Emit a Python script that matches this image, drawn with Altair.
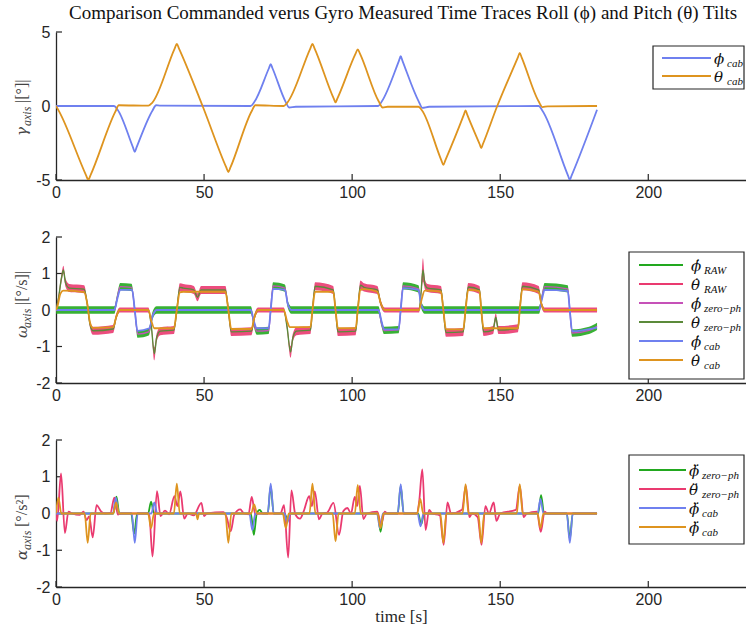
import altair as alt
import pandas as pd

# ---------------- colours / fonts ----------------
GREEN = "#22a81f"
PINK = "#ea3a70"
MAGENTA = "#c651b8"
DKGREEN = "#5b8a3a"
BLUE = "#6f80ef"
ORANGE = "#de941f"
AX = "#262626"
SANS = "Liberation Sans"
SERIF = "Liberation Serif"
MATH = "DejaVu Serif"

# ---------------- data: top panel (gamma) ----------------
top_phi_t = [0, 19.6, 20.8, 26.0, 26.6, 27.2, 32.6, 33.8, 35, 65.7, 66.9, 71.9, 72.5, 73.1, 77.5, 78.7, 81,
             108.8, 110.0, 115.8, 116.4, 117.0, 122.5, 123.7, 126, 163.0, 164.2, 172.9, 173.5, 174.1, 182.7]
top_phi_v = [0, 0, -0.25, -2.8, -3.1, -2.8, -0.3, 0.05, 0.03, 0, 0.25, 2.55, 2.82, 2.55, 0.3, -0.1, -0.05,
             0, 0.3, 3.05, 3.36, 3.05, 0.3, -0.12, -0.05, 0, -0.3, -4.7, -4.98, -4.7, -0.25]
top_theta_t = [0, 1.0, 10.2, 10.9, 11.6, 20.0, 21.2, 31.2, 32.4, 40.1, 40.8, 41.5, 49.5, 57.5, 58.2, 58.9,
               66.2, 67.3, 76.9, 78.0, 85.9, 86.6, 87.3, 93.8, 94.4, 95.0, 101.2, 101.9, 102.6, 109.0, 110.3,
               112.0, 122.4, 123.6, 130.1, 130.8, 131.5, 137.8, 138.3, 138.8, 143.1, 143.6, 144.1, 149.0,
               155.9, 156.6, 157.3, 163.0, 164.3, 166.0, 182.7]
top_theta_v = [0, -0.35, -4.7, -5.0, -4.7, -0.4, 0.05, 0.02, 0.2, 3.9, 4.2, 3.9, 0, -4.15, -4.46, -4.15,
               -0.3, 0.05, 0.0, 0.2, 3.9, 4.2, 3.9, 0.5, 0.25, 0.5, 3.55, 3.83, 3.55, 0.3, -0.1,
               -0.05, -0.05, -0.3, -3.65, -3.97, -3.65, -0.55, -0.29, -0.55, -2.6, -2.84, -2.6, 0,
               3.25, 3.58, 3.25, 0.3, -0.08, -0.02, 0]

# ---------------- data: middle panel (omega) ----------------
mid_theta_cab_t = [0, 0.5, 1.5, 2.5, 9.5, 10.5, 11.5, 12.5, 19.3, 20.3, 21.5, 31.2, 32.2, 33.2, 39.8, 40.8,
                   41.8, 43.0, 57.2, 58.2, 59.2, 66.0, 67.0, 68.2, 76.9, 78.0, 79.0, 85.9, 86.6, 87.5, 93.6,
                   94.4, 95.2, 101.2, 101.9, 102.8, 104.0, 108.5, 109.6, 111.0, 122.6, 123.5, 124.5, 130.0,
                   130.8, 131.7, 137.5, 138.3, 139.2, 143.0, 143.6, 144.4, 156.0, 156.6, 157.5, 163.0, 163.8,
                   165.0, 182.7]
mid_theta_cab_v = [0, 0.1, 0.45, 0.53, 0.49, 0.2, -0.35, -0.49, -0.47, -0.2, 0, 0, -0.3, -0.5, -0.5, 0,
                   0.48, 0.5, 0.5, 0, -0.52, -0.52, -0.2, 0, 0, -0.3, -0.47, -0.47, 0, 0.5, 0.5,
                   0, -0.5, -0.5, 0, 0.55, 0.57, 0.5, 0.2, 0, 0, 0.3, 0.53, 0.5,
                   0, -0.53, -0.53, 0, 0.55, 0.52, 0, -0.5, -0.5, 0, 0.57, 0.5, 0.2,
                   0, 0]
mid_phi_cab_t = [0, 19.7, 20.7, 21.7, 25.7, 26.6, 27.5, 31.5, 32.7, 34.0, 65.8, 66.8, 67.8, 71.8, 72.5, 73.3,
                 77.3, 78.3, 79.5, 108.9, 109.9, 110.8, 115.7, 116.4, 117.2, 122.4, 123.3, 124.5, 163.1,
                 164.1, 165.0, 172.8, 173.5, 174.3, 182.7]
mid_phi_cab_v = [0, 0, 0.3, 0.55, 0.55, 0, -0.57, -0.5, -0.15, 0, 0, -0.3, -0.5, -0.5, 0, 0.58,
                 0.55, 0.15, 0, 0, -0.3, -0.53, -0.53, 0, 0.6, 0.55, 0.15, 0, 0,
                 0.3, 0.55, 0.52, 0, -0.58, -0.48]
# zero-phase filtered phi rate (also the centre of the raw phi rate trace)
mid_phi_zp_t = [0, 19.7, 20.7, 21.7, 25.5, 26.6, 27.6, 31.3, 32.6, 34.0, 65.8, 66.8, 67.8, 71.8, 72.5, 73.3,
                77.3, 78.3, 79.5, 108.9, 109.9, 110.8, 115.7, 116.4, 117.2, 122.4, 123.3, 124.5, 163.1,
                164.1, 165.0, 172.8, 173.5, 174.3, 180.0, 182.7]
mid_phi_zp_v = [0, 0, 0.35, 0.64, 0.62, 0, -0.66, -0.6, -0.15, 0, 0, -0.35, -0.58, -0.56, 0, 0.66,
                0.6, 0.15, 0, 0, -0.35, -0.56, -0.54, 0, 0.66, 0.58, 0.15, 0, 0,
                0.35, 0.64, 0.58, 0, -0.63, -0.56, -0.45]
mid_phi_raw_spread = 0.1
# zero-phase filtered theta rate (also the centre of the raw theta rate trace)
mid_theta_zp_t = [0, 0.8, 1.8, 2.5, 3.2, 4.5, 9.5, 10.5, 11.5, 12.5, 19.3, 20.3, 21.5, 31.2, 32.2, 33.2, 34.0,
                  35.2, 39.8, 40.8, 41.8, 43.0, 46.5, 47.8, 49.0, 57.2, 58.2, 59.2, 66.0, 67.0, 68.2, 76.9,
                  78.0, 79.2, 80.0, 81.2, 85.9, 86.6, 87.5, 93.6, 94.4, 95.2, 101.2, 101.9, 102.8, 104.0,
                  108.5, 109.6, 111.0, 122.6, 123.3, 123.9, 124.6, 125.5, 130.0, 130.8, 131.7, 137.5, 138.3,
                  139.2, 143.0, 143.6, 144.4, 147.6, 148.5, 149.4, 156.0, 156.6, 157.5, 163.0, 163.8, 165.0,
                  182.7]
mid_theta_zp_v = [0, 0.3, 0.85, 1.1, 0.75, 0.6, 0.57, 0.2, -0.4, -0.57, -0.52, -0.2, 0, 0, -0.45, -1.2, -0.75,
                  -0.58, -0.55, 0, 0.62, 0.6, 0.55, 0.35, 0.55, 0.55, 0, -0.6, -0.58, -0.2, 0, 0,
                  -0.45, -1.15, -0.75, -0.58, -0.55, 0, 0.65, 0.55, 0, -0.6, -0.58, 0, 0.68, 0.62,
                  0.55, 0.2, 0, 0, 0.5, 1.1, 0.7, 0.6, 0.55, 0, -0.62, -0.6, 0,
                  0.63, 0.55, 0, -0.6, -0.55, -0.2, -0.55, -0.5, 0, 0.65, 0.55, 0.2, 0,
                  0]
mid_theta_raw_spread = [0.07, 0.09, 0.11, 0.11, 0.11, 0.11, 0.11, 0.09, 0.09, 0.11, 0.11, 0.09, 0.07, 0.07, 0.09, 0.18, 0.11,
                        0.11, 0.11, 0.09, 0.11, 0.11, 0.11, 0.11, 0.11, 0.11, 0.09, 0.11, 0.11, 0.09, 0.07, 0.07,
                        0.09, 0.16, 0.11, 0.11, 0.11, 0.09, 0.11, 0.11, 0.09, 0.11, 0.11, 0.09, 0.13, 0.11,
                        0.11, 0.09, 0.07, 0.07, 0.11, 0.32, 0.13, 0.11, 0.11, 0.09, 0.11, 0.11, 0.09,
                        0.11, 0.11, 0.09, 0.11, 0.11, 0.11, 0.11, 0.11, 0.09, 0.11, 0.11, 0.09, 0.07,
                        0.07]

# ---------------- data: bottom panel (alpha) ----------------
bot_theta_cab_t = [0, 0.8, 1.8, 9.7, 10.7, 11.7, 19.3, 20.3, 21.3, 31.1, 32.1, 33.1, 39.8, 40.8, 41.8, 47.3,
                   47.8, 48.3, 57.2, 58.2, 59.2, 65.9, 66.9, 67.9, 76.6, 77.6, 78.6, 85.6, 86.6, 87.6, 93.4,
                   94.4, 95.4, 100.9, 101.9, 102.9, 108.6, 109.6, 110.6, 122.0, 123.0, 124.0, 129.8, 130.8,
                   131.8, 137.3, 138.3, 139.3, 142.6, 143.6, 144.6, 155.6, 156.6, 157.6, 162.6, 163.6, 164.6,
                   182.7]
bot_theta_cab_v = [0, 0.43, 0, 0, -0.8, 0, 0, 0.3, 0, 0, -0.4, 0, 0, 0.81, 0, 0,
                   -0.16, 0, 0, -0.8, 0, 0, 0.25, 0, 0, -0.4, 0, 0, 0.81, 0, 0,
                   -0.76, 0, 0, 0.78, 0, 0, -0.4, 0, 0, 0.4, 0, 0, -0.8,
                   0, 0, 0.8, 0, 0, -0.8, 0, 0, 0.8, 0, 0, -0.4, 0,
                   0]
bot_phi_cab_t = [0, 19.2, 20.2, 21.2, 25.6, 26.6, 27.6, 32.2, 33.2, 34.2, 65.3, 66.3, 67.3, 71.5, 72.5, 73.5,
                 77.1, 78.1, 79.1, 108.4, 109.4, 110.4, 115.4, 116.4, 117.4, 122.1, 123.1, 124.1, 162.6,
                 163.6, 164.6, 172.5, 173.5, 174.5, 182.7]
bot_phi_cab_v = [0, 0, 0.43, 0, 0, -0.8, 0, 0, 0.3, 0, 0, -0.45, 0, 0, 0.81, 0,
                 0, -0.25, 0, 0, -0.4, 0, 0, 0.8, 0, 0, -0.35, 0, 0,
                 0.4, 0, 0, -0.8, 0, 0]
bot_phi_zp_t = [0, 19.4, 20.4, 21.4, 25.4, 26.4, 27.4, 31.1, 32.1, 33.1, 65.8, 66.8, 67.8, 68.8, 69.8, 71.5,
                72.5, 73.5, 77.2, 78.2, 79.2, 108.6, 109.6, 110.6, 115.4, 116.4, 117.4, 122.3, 123.3, 124.3,
                162.8, 163.8, 164.8, 172.5, 173.5, 174.5, 182.7]
bot_phi_zp_v = [0, 0, 0.46, 0, 0, -0.55, 0, 0, 0.32, 0, 0, -0.58, 0, 0.1, 0, 0,
                0.75, 0, 0, -0.16, 0, 0, -0.5, 0, 0, 0.75, 0, 0, -0.3, 0,
                0, 0.5, 0, 0, -0.7, 0, 0]
bot_theta_zp_t = [0, 0.4, 1.7, 3.0, 4.2, 5.5, 8.0, 9.3, 10.3, 11.2, 12.4, 13.7, 15.2, 16.5, 18.4, 19.7, 20.9,
                  22.0, 31.2, 31.6, 32.6, 34.1, 35.3, 36.8, 38.2, 40.0, 41.0, 42.0, 43.3, 44.5, 46.5, 49.1,
                  50.0, 51.0, 56.5, 57.6, 59.0, 60.2, 62.2, 63.5, 65.0, 66.1, 67.3, 68.5, 75.8, 77.0, 78.4,
                  79.5, 80.8, 82.4, 83.6, 85.5, 86.4, 87.4, 88.8, 90.0, 91.5, 93.7, 95.6, 97.0, 98.4, 99.6,
                  100.9, 101.7, 102.6, 103.8, 105.0, 108.5, 109.8, 111.0, 112.0, 121.8, 122.6, 123.7, 124.8,
                  126.0, 127.0, 129.6, 130.9, 132.2, 133.4, 137.1, 138.4, 139.6, 140.5, 142.4, 143.7, 145.0,
                  146.2, 147.8, 148.7, 150.0, 155.3, 156.6, 157.9, 159.0, 162.4, 163.7, 165.0, 166.0, 182.7]
bot_theta_zp_v = [0, -0.2, 1.09, -0.53, 0.05, 0, -0.04, 0.05, -0.18, -0.08, -0.65, 0.23, 0.06, 0, 0.02, 0.43, -0.03,
                  0, 0, -0.1, -1.17, 0.61, -0.07, 0.08, -0.02, 0.47, 0.2, 0.6, -0.14, 0, -0.05, 0.29,
                  -0.07, 0, 0.04, -0.1, -0.48, -0.03, 0.11, 0, -0.02, 0.45, -0.03, 0, 0, 0.23, -1.2,
                  0.63, -0.02, -0.14, 0.05, 0.47, 0.2, 0.6, -0.16, 0, 0.02, 0.29, -0.58, 0.06, 0.15, 0,
                  0.45, 0.2, 0.75, -0.15, 0, 0.05, -0.3, 0.05, 0, 0, 0.3, 1.2, -0.45,
                  0.1, 0, -0.05, -0.85, 0.3, 0, 0.1, 0.75, -0.1, 0, -0.1, -0.85, 0.2,
                  0, 0.3, -0.2, 0, 0.1, 0.75, -0.1, 0, 0.05, -0.5, 0.05, 0, 0]

# ---------------- tick values / labels ----------------
x_ticks = [0, 50, 100, 150, 200]
top_y_ticks = [-5, 0, 5]
rate_y_ticks = [-2, -1, 0, 1, 2]

title_text = "Comparison Commanded verus Gyro Measured Time Traces Roll (\u03d5) and Pitch (\u03b8) Tilts"

PHI = "\u03d5"
TH = "\u03b8"
DOT = "\u0307"
DDOT = "\u0308"
# legend rows: colour, symbol, subscript
top_legend = [(BLUE, PHI, "cab"), (ORANGE, TH, "cab")]
mid_legend = [(GREEN, PHI + DOT, "RAW"), (PINK, TH + DOT, "RAW"), (MAGENTA, PHI + DOT, "zero\u2212ph"),
              (DKGREEN, TH + DOT, "zero\u2212ph"), (BLUE, PHI + DOT, "cab"), (ORANGE, TH + DOT, "cab")]
bot_legend = [(GREEN, PHI + DDOT, "zero\u2212ph"), (PINK, TH + DDOT, "zero\u2212ph"),
              (BLUE, PHI + DDOT, "cab"), (ORANGE, PHI + DDOT, "cab")]

# ---------------- layout constants ----------------
W = 690
XMAX = 233
xscale = alt.Scale(domain=[0, XMAX], nice=False, zero=False)
one = pd.DataFrame({"a": [0]})


def make_xaxis(xtitle=None):
    kw = dict(values=x_ticks, ticks=False, domainColor=AX, domainWidth=1.3, labelFont=SANS,
              labelFontSize=16, labelColor=AX, labelPadding=4, grid=False, labelFlush=False,
              labelExpr="'' + datum.value")
    if xtitle:
        kw.update(title=xtitle, titleFont=SERIF, titleFontSize=17, titleFontWeight="normal",
                  titleColor=AX, titlePadding=1)
    else:
        kw.update(title=None)
    return alt.Axis(**kw)


def make_yaxis(yticks):
    return alt.Axis(values=yticks, ticks=False, domainColor=AX, domainWidth=1.3, labelFont=SANS,
                    labelFontSize=16, labelColor=AX, labelPadding=6, grid=False, title=None,
                    labelFlush=False, labelExpr="'' + datum.value")


def panel(series, yscale, yticks, extra, H, xtitle=None):
    xa = make_xaxis(xtitle)
    ya = make_yaxis(yticks)
    layers = []
    xt = alt.Chart(pd.DataFrame({"xv": x_ticks})).mark_rule(color=AX, strokeWidth=1.2).encode(
        x=alt.X("xv:Q", scale=xscale, axis=xa), y=alt.value(H), y2=alt.value(H - 6))
    yt = alt.Chart(pd.DataFrame({"yv": yticks})).mark_rule(color=AX, strokeWidth=1.2).encode(
        y=alt.Y("yv:Q", scale=yscale, axis=ya), x=alt.value(0), x2=alt.value(6))
    layers += [xt, yt]
    for s in series:
        kind = s[0]
        if kind == "line":
            _, t, v, color, width = s
            df = pd.DataFrame({"t": t, "v": v})
            layers.append(alt.Chart(df).mark_line(color=color, strokeWidth=width, interpolate="monotone",
                                                  clip=True).encode(
                x=alt.X("t:Q", scale=xscale, axis=xa), y=alt.Y("v:Q", scale=yscale, axis=ya)))
        else:
            _, t, centre, spread, color = s
            if not isinstance(spread, list):
                spread = [spread] * len(t)
            df = pd.DataFrame({"t": t, "lo": [c - d for c, d in zip(centre, spread)],
                               "hi": [c + d for c, d in zip(centre, spread)]})
            layers.append(alt.Chart(df).mark_area(color=color, opacity=0.9, interpolate="monotone",
                                                  clip=True).encode(
                x=alt.X("t:Q", scale=xscale, axis=xa), y=alt.Y("lo:Q", scale=yscale, axis=ya), y2="hi:Q"))
    layers += extra
    return alt.layer(*layers).properties(width=W, height=H)


def legend(rows, box, line_x, row_y, label_x):
    x0, x1, y0, y1 = box
    layers = [alt.Chart(one).mark_rect(fill="white", stroke=AX, strokeWidth=1.2).encode(
        x=alt.value(x0), x2=alt.value(x1), y=alt.value(y0), y2=alt.value(y1))]
    df = pd.DataFrame({"col": [r[0] for r in rows], "main": [r[1] for r in rows],
                       "sub": [r[2] for r in rows], "ly": row_y})
    layers.append(alt.Chart(df).mark_rule(strokeWidth=2).encode(
        x=alt.value(line_x[0]), x2=alt.value(line_x[1]), y=alt.Y("ly:Q", scale=None),
        color=alt.Color("col:N", scale=None)))
    layers.append(alt.Chart(df).mark_text(font=MATH, fontStyle="italic", fontSize=15, align="left",
                                          baseline="middle", color="#111", dy=1).encode(
        x=alt.value(label_x), y=alt.Y("ly:Q", scale=None), text="main:N"))
    layers.append(alt.Chart(df).mark_text(font=SERIF, fontStyle="italic", fontSize=11, align="left",
                                          baseline="middle", color="#111", dx=13, dy=6).encode(
        x=alt.value(label_x), y=alt.Y("ly:Q", scale=None), text="sub:N"))
    return layers


def ytitle(sym, unit, y_start):
    common = dict(angle=270, align="left", baseline="middle", color="#444")
    return [
        alt.Chart(one).mark_text(text=sym, font=MATH, fontStyle="italic", fontSize=15, **common).encode(
            x=alt.value(-34), y=alt.value(y_start)),
        alt.Chart(one).mark_text(text="axis", font=SERIF, fontStyle="italic", fontSize=12, dy=5,
                                 **common).encode(x=alt.value(-34), y=alt.value(y_start - 10)),
        alt.Chart(one).mark_text(text=unit, font=SERIF, fontSize=16, **common).encode(
            x=alt.value(-34), y=alt.value(y_start - 33)),
    ]


# ---------------- top panel ----------------
ys_top = alt.Scale(domain=[-5, 5], nice=False)
top = panel(
    [("line", top_phi_t, top_phi_v, BLUE, 1.8),
     ("line", top_theta_t, top_theta_v, ORANGE, 1.8)],
    ys_top, top_y_ticks,
    legend(top_legend, (597, 688, 14, 57), (606, 655), [26, 44], 658) + ytitle("\u03b3", "|[\u00b0]|", 104),
    148,
)

# ---------------- middle panel ----------------
ys_mid = alt.Scale(domain=[-2, 2], nice=False)
mid = panel(
    [("band", mid_phi_zp_t, mid_phi_zp_v, mid_phi_raw_spread, GREEN),
     ("band", mid_theta_zp_t, mid_theta_zp_v, mid_theta_raw_spread, PINK),
     ("line", mid_phi_zp_t, mid_phi_zp_v, MAGENTA, 1.4),
     ("line", mid_theta_zp_t, mid_theta_zp_v, DKGREEN, 1.4),
     ("line", mid_phi_cab_t, mid_phi_cab_v, BLUE, 1.8),
     ("line", mid_theta_cab_t, mid_theta_cab_v, ORANGE, 1.8)],
    ys_mid, rate_y_ticks,
    legend(mid_legend, (573, 688, 15, 142), (583, 627), [28, 47, 66, 85, 104, 123], 635)
    + ytitle("\u03c9", "|[\u00b0/s]|", 101),
    146,
)

# ---------------- bottom panel ----------------
ys_bot = alt.Scale(domain=[-2, 2], nice=False)
bot = panel(
    [("line", bot_phi_zp_t, bot_phi_zp_v, GREEN, 1.8),
     ("line", bot_theta_zp_t, bot_theta_zp_v, PINK, 1.8),
     ("line", bot_phi_cab_t, bot_phi_cab_v, BLUE, 1.8),
     ("line", bot_theta_cab_t, bot_theta_cab_v, ORANGE, 1.8)],
    ys_bot, rate_y_ticks,
    legend(bot_legend, (573, 688, 15, 104), (583, 630), [30, 49, 68, 87], 633)
    + ytitle("\u03b1", "[\u00b0/s\u00b2]", 120),
    147,
    xtitle="time [s]",
)

chart = alt.vconcat(top, mid, bot, spacing=29).properties(
    title=alt.Title(text=title_text, font=SERIF, fontSize=19, fontWeight="normal", color="#111",
                    anchor="start", frame="group", dx=13, offset=1),
    padding={"left": 14, "top": 4, "right": 0, "bottom": 0},
).configure_view(strokeWidth=0)

chart.save("out.html", embed_options={"renderer": "svg", "actions": False})
